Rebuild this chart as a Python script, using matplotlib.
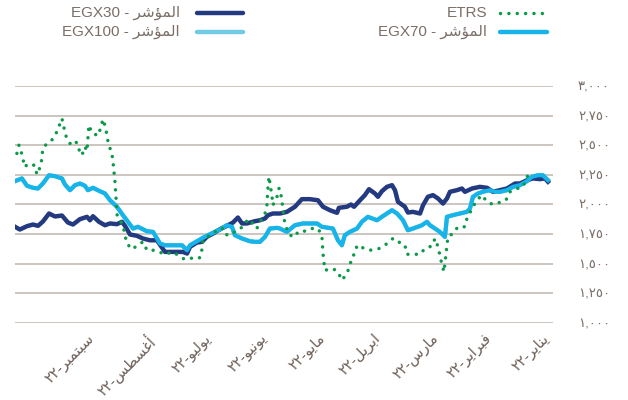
import numpy as np
import pandas as pd
import matplotlib
matplotlib.use("Agg")
import matplotlib.pyplot as plt
import matplotlib.transforms as mtransforms
from matplotlib.lines import Line2D

# ---------------- data (days after 2022-01-02, index level) ----------------
egx30_day = [285.0, 282.4, 278.6, 275.4, 272.7, 270.1, 266.8, 263.6, 259.9, 256.7, 254.0, 250.3,
             246.5, 244.9, 243.3, 240.1, 236.9, 234.2, 230.5, 227.8, 226.2, 223.5, 219.8, 216.6,
             212.8, 209.1, 204.8, 200.5, 195.2, 193.0, 191.4, 187.7, 185.0, 182.4, 179.1, 175.4,
             171.7, 168.4, 165.8, 163.6, 161.0, 156.7, 154.0, 151.3, 149.7, 147.1, 143.3, 139.6,
             135.3, 131.6, 127.3, 123.0, 120.3, 116.6, 112.8, 111.8, 107.5, 105.3, 103.7, 100.5,
             97.9, 95.7, 92.5, 90.9, 88.8, 86.1, 83.4, 81.8, 80.2, 76.5, 74.9, 72.2, 68.4, 66.8,
             64.2, 61.5, 58.8, 56.1, 54.0, 52.4, 48.7, 46.0, 44.4, 40.6, 36.4, 32.6, 29.4, 25.7,
             21.9, 17.6, 15.0, 11.2, 8.0, 4.3, 1.6, 0.0]
egx30_val = [1812, 1789, 1817, 1831, 1820, 1856, 1924, 1899, 1907, 1848, 1831, 1876,
             1896, 1867, 1901, 1854, 1825, 1840, 1834, 1854, 1820, 1747, 1736, 1713,
             1698, 1698, 1600, 1600, 1600, 1586, 1643, 1679, 1685, 1727, 1755, 1791,
             1820, 1848, 1890, 1840, 1840, 1859, 1867, 1882, 1910, 1924, 1924, 1938,
             1981, 2045, 2045, 2036, 1981, 1952, 1930, 1972, 1981, 2000, 1981, 2036,
             2079, 2129, 2093, 2065, 2112, 2149, 2163, 2121, 2023, 1981, 1932, 1938, 1924, 1994,
             2065, 2079, 2051, 2008, 2051, 2107, 2121, 2135, 2107, 2135, 2149, 2141, 2107, 2121,
             2135, 2177, 2177, 2205, 2220, 2214, 2220, 2192]

egx70_day = [285.0, 281.3, 278.6, 275.4, 272.7, 270.1, 266.8, 263.6, 259.9, 258.3, 255.6, 252.9,
             250.3, 247.6, 246.0, 243.3, 239.6, 236.9, 234.2, 230.5, 227.3, 224.6, 221.9, 219.3,
             214.4, 211.2, 207.5, 204.8, 200.5, 195.7, 193.0, 191.4, 187.7, 184.5, 181.8, 179.1,
             175.4, 171.7, 169.0, 167.4, 163.6, 159.4, 156.7, 154.0, 151.3, 148.7, 144.9, 143.3,
             139.6, 135.3, 131.0, 123.5, 120.9, 115.0, 112.3, 110.2, 108.6, 105.9, 102.1, 99.5,
             96.3, 91.4, 88.8, 86.1, 83.4, 80.7, 77.5, 74.9, 72.2, 67.4, 64.7, 63.1, 60.4, 57.8,
             55.1, 54.0, 50.8, 47.1, 43.3, 41.7, 40.1, 37.4, 34.8, 31.0, 28.3, 25.7, 21.9, 18.7,
             15.0, 11.2, 8.6, 5.3, 2.7, 0.0]
egx70_val = [2197, 2220, 2158, 2141, 2135, 2177, 2247, 2239, 2220, 2169, 2121, 2163,
             2177, 2158, 2121, 2141, 2112, 2093, 2036, 1981, 1910, 1854, 1797, 1812,
             1774, 1769, 1671, 1656, 1656, 1656, 1614, 1656, 1690, 1719, 1741, 1761,
             1789, 1825, 1812, 1741, 1713, 1690, 1685, 1685, 1727, 1797, 1803, 1797,
             1769, 1825, 1840, 1840, 1812, 1797, 1698, 1656, 1741, 1769, 1797, 1854,
             1896, 1867, 1896, 1924, 1952, 1924, 1867, 1783, 1797, 1825, 1854, 1825, 1797, 1769,
             1727, 1896, 1910, 1924, 1938, 1966, 2065, 2093, 2107, 2121, 2107, 2107, 2121, 2149,
             2163, 2197, 2234, 2247, 2247, 2205]

# EGX100 is hidden underneath EGX70 in the source chart (same path)
egx100_day = list(egx70_day)
egx100_val = list(egx70_val)

etrs_day = [284.0, 282.9, 280.7, 280.2, 277.0, 274.3, 273.3, 271.1, 270.1, 267.9, 264.7, 262.6,
            260.9, 259.9, 258.8, 257.8, 255.6, 253.5, 251.3, 250.3, 249.2, 247.6, 246.5, 245.5,
            243.9, 240.6, 239.0, 238.0, 236.4, 235.8, 234.8, 233.2, 232.6, 232.1, 231.6, 231.0,
            230.5, 227.3, 226.2, 225.1, 222.5, 219.3, 216.6, 214.4, 210.2, 204.8, 200.5, 195.2,
            192.5, 188.8, 186.1, 185.0, 184.5, 179.7, 174.3, 172.7, 170.1, 166.3, 163.1, 160.4,
            156.7, 155.6, 155.1, 151.3, 150.3, 149.7, 149.2, 147.6, 147.1, 144.9, 143.9, 143.3,
            142.2, 141.2, 140.1, 138.0, 135.3, 133.7, 131.0, 127.3, 123.0, 120.9, 120.3, 119.3,
            115.0, 112.3, 110.2, 107.5, 105.9, 104.8, 103.2, 102.1, 98.9, 95.2, 90.4, 87.2,
            82.9, 81.8, 78.1, 76.5, 75.4, 68.4, 65.8, 62.0, 60.4, 58.8, 57.8, 56.7, 55.6, 55.1,
            54.5, 53.5, 50.8, 48.1, 44.4, 43.3, 40.6, 38.0, 35.3, 32.6, 29.4, 24.6, 22.5, 20.3,
            17.6, 13.4, 9.6]
etrs_val = [2431, 2501, 2394, 2318, 2346, 2327, 2253, 2332, 2473, 2515, 2552, 2614,
            2684, 2726, 2648, 2580, 2515, 2543, 2509, 2431, 2416, 2487, 2450, 2670,
            2606, 2580, 2656, 2720, 2642, 2572, 2501, 2431, 2361, 2281, 2205, 2059,
            1916, 1825, 1741, 1671, 1622, 1656, 1685, 1614, 1614, 1580, 1600, 1544,
            1535, 1558, 1550, 1622, 1698, 1755, 1803, 1747, 1741, 1783, 1812, 1876,
            1825, 1797, 1825, 1924, 1994, 2149, 2236, 2073, 1994, 2065, 2135, 2135,
            2023, 1882, 1812, 1741, 1727, 1769, 1769, 1797, 1797, 1741, 1586, 1445,
            1459, 1432, 1361, 1417, 1487, 1558, 1586, 1656, 1634, 1614, 1628, 1656,
            1713, 1713, 1662, 1656, 1580, 1580, 1628, 1651, 1713, 1643, 1572, 1493, 1432, 1502,
            1586, 1727, 1755, 1812, 1812, 1882, 1966, 2036, 2079, 2023, 2000, 2023, 2036, 2107,
            2129, 2149, 2290]

# y ticks (Arabic-Indic digits)
y_ticks = [1000, 1250, 1500, 1750, 2000, 2250, 2500, 2750, 3000]
y_labels = ["\u0661,\u0660\u0660\u0660", "\u0661,\u0662\u0665\u0660", "\u0661,\u0665\u0660\u0660",
            "\u0661,\u0667\u0665\u0660", "\u0662,\u0660\u0660\u0660", "\u0662,\u0662\u0665\u0660",
            "\u0662,\u0665\u0660\u0660", "\u0662,\u0667\u0665\u0660", "\u0663,\u0660\u0660\u0660"]

# month ticks; labels pre-shaped Arabic in visual order
month_ticks = ["2022-01-01", "2022-02-01", "2022-03-01", "2022-04-01", "2022-05-01",
               "2022-06-01", "2022-07-01", "2022-08-01", "2022-09-01"]
yy = "\u0662\u0662-"
month_labels = [
    yy + "\uFEAE\uFEF3\uFE8E\uFEE8\uFEF3",            # يناير
    yy + "\uFEAE\uFEF3\uFE8D\uFEAE\uFE92\uFED3",      # فبراير
    yy + "\uFEB1\uFEAD\uFE8E\uFEE3",                  # مارس
    yy + "\uFEDE\uFEF3\uFEAE\uFE91\uFE8D",            # ابريل
    yy + "\uFEEE\uFEF3\uFE8E\uFEE3",                  # مايو
    yy + "\uFEEE\uFEF4\uFEE7\uFEEE\uFEF3",            # يونيو
    yy + "\uFEEE\uFEF4\uFEDF\uFEEE\uFEF3",            # يوليو
    yy + "\uFEB2\uFEC4\uFEB4\uFECF\uFE83",            # أغسطس
    yy + "\uFEAE\uFE92\uFEE4\uFE98\uFE92\uFEB3",      # سبتمبر
]
index_word = "\uFEAE\uFEB7\uFE86\uFEE4\uFEDF\uFE8D"   # المؤشر
series_names = {"EGX30": "EGX30 - " + index_word, "EGX100": "EGX100 - " + index_word,
                "ETRS": "ETRS", "EGX70": "EGX70 - " + index_word}

# ---------------- styling ----------------
C30 = "#243a80"
C70 = "#17b4ea"
C100 = "#6fcbe6"
CETRS = "#0a9a48"
GRID = "#c9c2bb"
TXT = "#7a6e67"
FAM = ["Liberation Sans", "DejaVu Sans"]

base = pd.Timestamp("2022-01-02")
def dts(days):
    return base + pd.to_timedelta(np.array(days, dtype=float), unit="D")

fig = plt.figure(figsize=(6.28, 4.0), dpi=100)
ax = fig.add_axes([15 / 628, 1 - 323 / 400, (553 - 15) / 628, (323 - 86) / 400])

for yv in y_ticks:
    ax.axhline(yv, color=GRID, lw=1.3, zorder=0)

ax.plot(dts(egx100_day), egx100_val, color=C100, lw=3.0, solid_joinstyle="round", zorder=1)
ax.plot(dts(egx30_day), egx30_val, color=C30, lw=3.2, solid_joinstyle="round", zorder=2)
ax.plot(dts(egx70_day), egx70_val, color=C70, lw=3.0, solid_joinstyle="round", zorder=3)
ax.plot(dts(etrs_day), etrs_val, color=CETRS, lw=2.5, linestyle=(0, (0.01, 2.4)),
        dash_capstyle="round", zorder=4)

ax.set_ylim(1000, 3000)
ax.set_xlim(base + pd.Timedelta(days=285.0), base - pd.Timedelta(days=2.7))
for s in ax.spines.values():
    s.set_visible(False)

ax.yaxis.tick_right()
ax.set_yticks(y_ticks)
ax.set_yticklabels(y_labels, family=FAM, fontsize=9.5, color=TXT)
ax.tick_params(axis="y", length=0, pad=18)
for lab in ax.get_yticklabels():
    lab.set_horizontalalignment("left")

ax.set_xticks(pd.to_datetime(month_ticks))
ax.set_xticklabels(month_labels, family=FAM, fontsize=10.5, color="#6c5f58",
                   rotation=45, ha="right", va="top", rotation_mode="anchor")
ax.tick_params(axis="x", length=0, pad=6)
shift = mtransforms.ScaledTranslation(-8 / 100, 0, fig.dpi_scale_trans)
for lab in ax.get_xticklabels():
    lab.set_transform(lab.get_transform() + shift)

# legend (manual, handles to the right of the text)
def leg(text, xt, xl0, xl1, yp, color, ls="-", lw=3.2):
    fig.text(xt / 628, 1 - yp / 400, text, ha="right", va="center",
             fontsize=11, color=TXT, family=FAM)
    kw = dict(color=color, lw=lw, solid_capstyle="round")
    if ls != "-":
        kw.update(linestyle=ls, dash_capstyle="round")
    fig.add_artist(Line2D([xl0 / 628, xl1 / 628], [1 - yp / 400, 1 - yp / 400],
                          transform=fig.transFigure, **kw))

leg(series_names["EGX30"], 180, 197, 243, 13, C30)
leg(series_names["EGX100"], 180, 197, 243, 32, C100)
leg(series_names["ETRS"], 487, 500, 547, 13, CETRS, ls=(0, (0.01, 2.4)), lw=2.5)
leg(series_names["EGX70"], 487, 500, 547, 32, C70)

fig.savefig("out.png", dpi=100)
